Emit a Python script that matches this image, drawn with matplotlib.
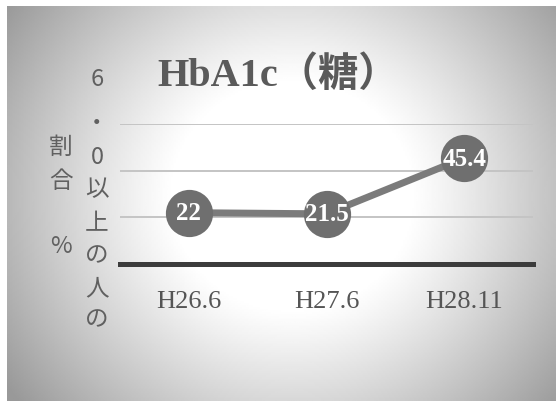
import numpy as np
import matplotlib.pyplot as plt

categories = ['H26.6', 'H27.6', 'H28.11']
values = [22, 21.5, 45.4]
value_labels = ['22', '21.5', '45.4']
y_ticks = [0, 20, 40, 60]
title = 'HbA1c（糖）'
ylabel_col1 = ['6', '・', '0', '以', '上', 'の', '人', 'の']
ylabel_col2 = ['割', '合', '', '%']

W, H = 556, 402
fig = plt.figure(figsize=(W / 100, H / 100), dpi=100)
fig.patch.set_facecolor('white')

# radial gradient background panel
bg = fig.add_axes([7 / W, 0, (W - 7) / W, (H - 7) / H])
bg.set_axis_off()
gx, gy = np.meshgrid(np.linspace(0, W - 7, 300), np.linspace(0, H - 7, 220))
d = np.sqrt(((gx - 285) / 1.0) ** 2 + ((gy - 190) / 0.95) ** 2)
t = np.clip((d - 120) / 230, 0, 1)
shade = 1.0 - 0.40 * t ** 1.1
bg.imshow(shade, cmap='gray', vmin=0, vmax=1, aspect='auto',
          extent=[0, 1, 0, 1], origin='upper')

serif = ['Liberation Serif', 'Noto Sans CJK JP']
cjk = ['Noto Sans CJK JP', 'DejaVu Sans']

ax = fig.add_axes([120 / W, (H - 265) / H, 413 / W, 140 / H])
ax.set_facecolor('none')
x = np.arange(len(categories))
ax.set_xlim(-0.5, len(categories) - 0.5)
ax.set_ylim(y_ticks[0], y_ticks[-1])
for v in y_ticks[1:]:
    ax.axhline(v, color='#c4c4c4', lw=1.4, zorder=1)
ax.axhline(y_ticks[0], color='#3c3c3c', lw=3.6, zorder=2, clip_on=False)
for s in ax.spines.values():
    s.set_visible(False)
ax.set_yticks([])
ax.set_xticks(x)
ax.set_xticklabels(categories, family=serif, fontsize=19, color='#555555')
ax.tick_params(axis='x', length=0, pad=19)

ax.plot(x, values, color='#7b7b7b', lw=5, zorder=3, clip_on=False,
        solid_capstyle='butt')
ax.plot(x, values, 'o', color='#6f6f6f', ms=34, mec='none', zorder=4,
        clip_on=False)
for xi, v, lab in zip(x, values, value_labels):
    ax.text(xi, v, lab, ha='center', va='center', color='white',
            fontsize=18, fontweight='bold', family=serif, zorder=5)

fig.text(278 / W, 1 - 76 / H, title, ha='center', va='center',
         family=serif, fontsize=29, fontweight='bold', color='#5a5a5a')

col1_y = [80, 124, 157, 190, 224, 256, 289, 320]
for ch, yy in zip(ylabel_col1, col1_y):
    fig.text(97 / W, 1 - yy / H, ch, ha='center', va='center',
             family=cjk, fontsize=17, color='#606060')
col2_y = [147, 182, 214, 247]
for ch, yy in zip(ylabel_col2, col2_y):
    fig.text(61 / W, 1 - yy / H, ch, ha='center', va='center',
             family=cjk, fontsize=17, color='#606060')

fig.savefig('out.png', dpi=100)
